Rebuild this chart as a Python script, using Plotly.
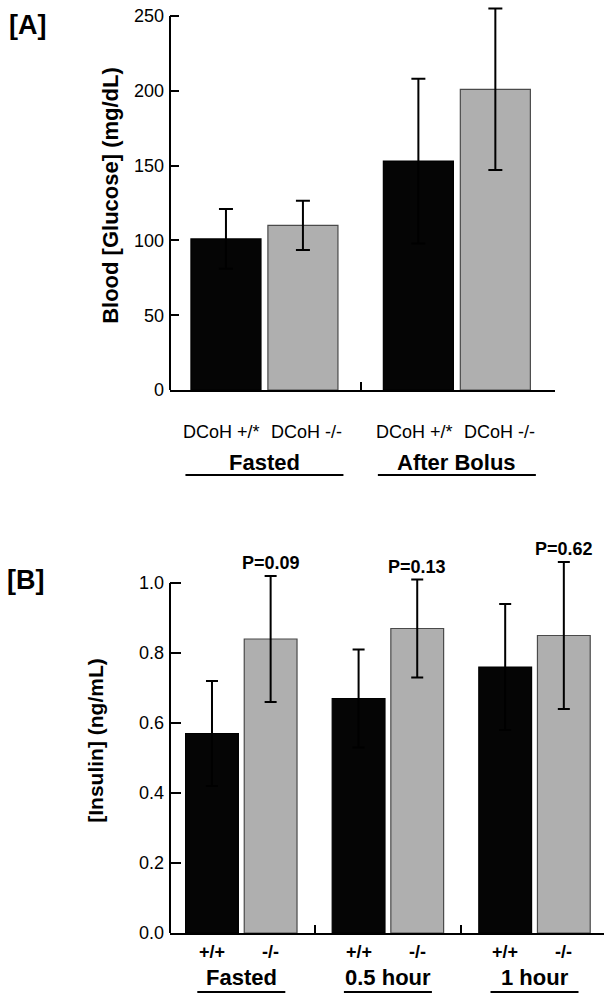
import plotly.graph_objects as go

# ---------------- data ----------------
# Panel A: blood glucose
a_groups = ["Fasted", "After Bolus"]
a_genotypes = ["DCoH +/*", "DCoH -/-"]
a_glucose_wt = [101, 153]
a_glucose_wt_err = [20, 55]
a_glucose_ko = [110, 201]
a_glucose_ko_err = [16.5, 54]
a_yticks = [0, 50, 100, 150, 200, 250]

# Panel B: insulin
b_groups = ["Fasted", "0.5 hour", "1 hour"]
b_genotypes = ["+/+", "-/-"]
b_insulin_wt = [0.57, 0.67, 0.76]
b_insulin_wt_err = [0.15, 0.14, 0.18]
b_insulin_ko = [0.84, 0.87, 0.85]
b_insulin_ko_err = [0.18, 0.14, 0.21]
b_pvalues = ["P=0.09", "P=0.13", "P=0.62"]
b_yticks = [0.0, 0.2, 0.4, 0.6, 0.8, 1.0]

# ---------------- layout helpers ----------------
W, H = 607, 995
H_EFF = 985  # effective drawing height observed in the rendered page
FONT = "Arial, 'Liberation Sans', Helvetica, sans-serif"
BLACK = "#050505"
GRAY = "#afafaf"
GRAY_LINE = "#4a4a4a"
GROUP_STEP = 2.5

A_YMAX_AXIS, A_YMAX_RANGE = 250, 260
B_YMAX_AXIS, B_YMAX_RANGE = 1.0, 1.1


def px_x(p):
    return p / W


def px_y(p):
    return 1 - p / H_EFF


a_wt_x = [g * GROUP_STEP for g in range(len(a_groups))]
a_ko_x = [g * GROUP_STEP + 1 for g in range(len(a_groups))]
b_wt_x = [g * GROUP_STEP for g in range(len(b_groups))]
b_ko_x = [g * GROUP_STEP + 1 for g in range(len(b_groups))]

fig = go.Figure()


def add_bars(x, y, err, color, line_color, xa, ya, width, cap, name):
    fig.add_trace(go.Bar(
        x=x, y=y, width=width, name=name,
        marker=dict(color=color, line=dict(color=line_color, width=1.2)),
        error_y=dict(type="data", array=err, visible=True, color="black",
                     thickness=2, width=cap),
        xaxis=xa, yaxis=ya, showlegend=False, hoverinfo="skip",
    ))


add_bars(a_wt_x, a_glucose_wt, a_glucose_wt_err, BLACK, "black", "x", "y", 0.91, 7, a_genotypes[0])
add_bars(a_ko_x, a_glucose_ko, a_glucose_ko_err, GRAY, GRAY_LINE, "x", "y", 0.91, 7, a_genotypes[1])
add_bars(b_wt_x, b_insulin_wt, b_insulin_wt_err, BLACK, "black", "x2", "y2", 0.9, 6, b_genotypes[0])
add_bars(b_ko_x, b_insulin_ko, b_insulin_ko_err, GRAY, GRAY_LINE, "x2", "y2", 0.9, 6, b_genotypes[1])

axis_common = dict(linewidth=2, linecolor="black", showgrid=False,
                   zeroline=False, ticks="inside", tickwidth=2, tickcolor="black")

a_xrange = [-0.727, 4.275]
b_xrange = [-0.716, 6.685]
a_sep = [g * GROUP_STEP + 1.75 for g in range(len(a_groups) - 1)] + [a_xrange[1] - 0.005]
b_sep = [g * GROUP_STEP + 1.75 for g in range(len(b_groups) - 1)] + [b_xrange[1] - 0.005]

# pixel geometry of the plot areas (y of zero line and of the top tick)
A_Y0, A_YTOP = 390, 16
B_Y0, B_YTOP = 933, 583
a_dom_top = A_Y0 - (A_Y0 - A_YTOP) * A_YMAX_RANGE / A_YMAX_AXIS
b_dom_top = B_Y0 - (B_Y0 - B_YTOP) * B_YMAX_RANGE / B_YMAX_AXIS

fig.update_layout(
    width=W, height=H, autosize=False,
    margin=dict(l=0, r=0, t=0, b=0),
    paper_bgcolor="white", plot_bgcolor="white",
    font=dict(family=FONT, color="black", size=16),
    barmode="overlay",
    xaxis=dict(**axis_common, showline=True, domain=[px_x(170), px_x(555)], range=a_xrange,
               tickvals=a_sep, ticklen=8, showticklabels=False, anchor="y"),
    yaxis=dict(**axis_common, showline=False, domain=[px_y(A_Y0), px_y(a_dom_top)],
               range=[0, A_YMAX_RANGE], tickvals=a_yticks, ticklen=9, anchor="x",
               tickfont=dict(size=18), ticklabelstandoff=5,
               title=dict(text="<b>Blood [Glucose] (mg/dL)</b>", font=dict(size=22), standoff=9)),
    xaxis2=dict(**axis_common, showline=True, domain=[px_x(170), px_x(604)], range=b_xrange,
                tickvals=b_sep, ticklen=8, showticklabels=False, anchor="y2"),
    yaxis2=dict(**axis_common, showline=False, domain=[px_y(B_Y0), px_y(b_dom_top)],
                range=[0, B_YMAX_RANGE], tickvals=b_yticks, tickformat=".1f", ticklen=11,
                anchor="x2", tickfont=dict(size=18), ticklabelstandoff=5,
                title=dict(text="<b>[Insulin] (ng/mL)</b>", font=dict(size=21), standoff=29)),
)

ann = []
shapes = []

# y-axis lines that stop at the top tick
shapes.append(dict(type="line", xref="x domain", yref="y domain", x0=0, x1=0,
                   y0=0, y1=A_YMAX_AXIS / A_YMAX_RANGE, line=dict(color="black", width=2)))
shapes.append(dict(type="line", xref="x2 domain", yref="y2 domain", x0=0, x1=0,
                   y0=0, y1=B_YMAX_AXIS / B_YMAX_RANGE, line=dict(color="black", width=2)))


def dom_frac(v, rng):
    return (v - rng[0]) / (rng[1] - rng[0])


# Panel A category & group labels
for g, grp in enumerate(a_groups):
    for k, (xv, lab) in enumerate(zip([a_wt_x[g], a_ko_x[g]], a_genotypes)):
        ann.append(dict(x=xv, y=0, xref="x", yref="y", yshift=-42, xshift=(-4 if k == 0 else 4),
                        yanchor="middle", text=lab, showarrow=False, font=dict(size=18)))
    center = (a_wt_x[g] + a_ko_x[g]) / 2
    ann.append(dict(x=center, y=0, xref="x", yref="y", yshift=-72, yanchor="middle",
                    text=f"<b>{grp}</b>", showarrow=False, font=dict(size=22)))
    shapes.append(dict(type="line", xref="x domain", yref="y domain",
                       xsizemode="pixel", ysizemode="pixel",
                       xanchor=dom_frac(center, a_xrange), yanchor=0,
                       x0=-79, x1=79, y0=-85, y1=-85,
                       line=dict(color="black", width=2)))

# Panel B category & group labels
for g, grp in enumerate(b_groups):
    for xv, lab in zip([b_wt_x[g], b_ko_x[g]], b_genotypes):
        ann.append(dict(x=xv, y=0, xref="x2", yref="y2", yshift=-19, yanchor="middle",
                        text=f"<b>{lab}</b>", showarrow=False, font=dict(size=18)))
    center = (b_wt_x[g] + b_ko_x[g]) / 2
    ann.append(dict(x=center, y=0, xref="x2", yref="y2", yshift=-44, yanchor="middle",
                    text=f"<b>{grp}</b>", showarrow=False, font=dict(size=22)))
    shapes.append(dict(type="line", xref="x2 domain", yref="y2 domain",
                       xsizemode="pixel", ysizemode="pixel",
                       xanchor=dom_frac(center, b_xrange), yanchor=0,
                       x0=-44, x1=44, y0=-59, y1=-59,
                       line=dict(color="black", width=2)))
    # P-values above the -/- error bars
    ann.append(dict(x=b_ko_x[g], y=b_insulin_ko[g] + b_insulin_ko_err[g], xref="x2", yref="y2",
                    yanchor="bottom", yshift=1, text=f"<b>{b_pvalues[g]}</b>",
                    showarrow=False, font=dict(size=18)))

# Panel letters
ann.append(dict(x=px_x(7), y=px_y(25), xref="paper", yref="paper", xanchor="left",
                yanchor="middle", text="<b>[A]</b>", showarrow=False, font=dict(size=27)))
ann.append(dict(x=px_x(5), y=px_y(580), xref="paper", yref="paper", xanchor="left",
                yanchor="middle", text="<b>[B]</b>", showarrow=False, font=dict(size=27)))

fig.update_layout(annotations=ann, shapes=shapes)
fig.write_html("out.html",
               config={"displayModeBar": False, "responsive": False},
               post_script="document.body.style.margin='0';")
